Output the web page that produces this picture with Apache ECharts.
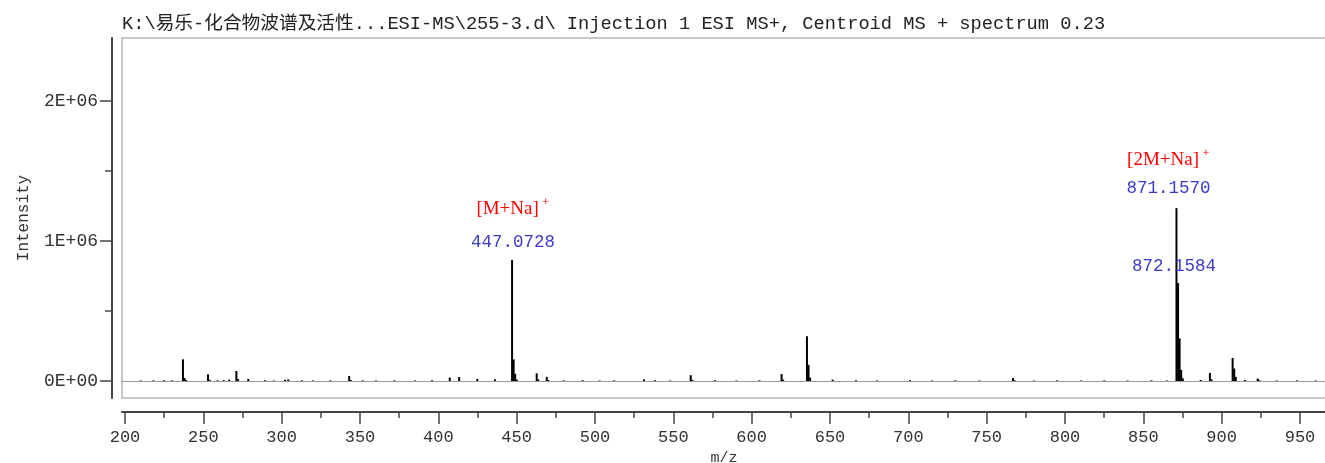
<!DOCTYPE html>
<html>
<head>
<meta charset="utf-8">
<script src="https://cdn.jsdelivr.net/npm/echarts@6/dist/echarts.min.js"></script>
<style>
html,body{margin:0;padding:0;background:#fff;}
#chart{width:1325px;height:463px;}
</style>
</head>
<body>
<div id="chart"></div>
<script>
// ---- data ----
const titleText = 'K:\\易乐-化合物波谱及活性...ESI-MS\\255-3.d\\ Injection 1 ESI MS+, Centroid MS + spectrum 0.23';
const xName = 'm/z';
const yName = 'Intensity';

const peakMz = [
  210.1, 218.2, 225.0, 230.1, 237.0, 238.0, 239.0, 253.0, 254.0, 259.1,
  263.0, 266.5, 271.1, 272.1, 278.7, 289.4, 295.0, 302.1, 304.2, 313.0,
  320.0, 331.1, 343.1, 344.1, 351.7, 360.2, 372.0, 385.1, 396.0, 407.3,
  413.3, 424.9, 436.2, 447.0728, 448.0758, 449.07, 450.1, 462.8, 463.8, 469.2,
  470.2, 480.0, 492.1, 503.0, 512.2, 531.3, 538.3, 548.0, 561.1, 562.1,
  576.6, 590.2, 605.0, 619.1, 620.1, 635.3, 636.3, 637.3, 651.7, 666.6,
  680.0, 701.1, 715.2, 730.0, 745.3, 766.8, 767.8, 780.2, 795.0, 810.3,
  825.1, 840.0, 855.2, 865.0, 871.1570, 872.1584, 873.16, 874.16, 875.17, 886.6,
  892.5, 893.5, 907.0, 908.0, 909.0, 914.9, 923.0, 924.0, 935.2, 948.0, 960.0
];
const peakIntensity = [
  4000, 5000, 6000, 5000, 155000, 22000, 8000, 48000, 9000, 5000,
  6000, 10000, 72000, 14000, 15000, 6000, 4000, 9000, 11000, 5000,
  4000, 5000, 36000, 8000, 5000, 4000, 5000, 4000, 6000, 25000,
  28000, 16000, 12000, 864000, 155000, 52000, 10000, 55000, 12000, 30000,
  8000, 5000, 6000, 4000, 5000, 12000, 6000, 4000, 42000, 9000,
  6000, 4000, 5000, 50000, 10000, 320000, 115000, 25000, 10000, 6000,
  4000, 6000, 4000, 5000, 4000, 22000, 6000, 4000, 5000, 4000,
  5000, 4000, 5000, 4000, 1235000, 700000, 305000, 80000, 20000, 8000,
  58000, 12000, 165000, 90000, 30000, 8000, 18000, 6000, 4000, 5000, 4000
];

// annotated peaks
const annotMz = [447.0728, 871.1570, 872.1584];
const annotText = ['447.0728', '871.1570', '872.1584'];
const annotIon = ['[M+Na]', '[2M+Na]', ''];

const xMajorTicks = [200,250,300,350,400,450,500,550,600,650,700,750,800,850,900,950];
const xMinorTicks = [225,275,325,375,425,475,525,575,625,675,725,775,825,875,925];
const yMajorTicks = [0, 1000000, 2000000];
const yMinorTicks = [500000, 1500000];
const yTickLabels = {0: '0E+00', 1000000: '1E+06', 2000000: '2E+06'};

// ---- style / layout ----
const mono = "'Liberation Mono', 'DejaVu Sans Mono', 'Noto Sans CJK SC', monospace";
const serif = "'Liberation Serif', 'DejaVu Serif', serif";
const blue = '#3b3bc6';
const red = '#ff0000';
const labelLayout = {
  '447.0728': {distance: 8, offset: [1, 0], ionLH: 46},
  '871.1570': {distance: 10, offset: [-8, 0], ionLH: 36},
  '872.1584': {distance: 7, offset: [-4, 0], ionLH: 0}
};

const barData = peakMz.map((mz, i) => {
  const item = {value: [mz, peakIntensity[i]]};
  const k = annotMz.indexOf(mz);
  if (k >= 0) {
    const lay = labelLayout[annotText[k]];
    const ion = annotIon[k];
    item.label = {
      show: true,
      position: 'top',
      distance: lay.distance,
      offset: lay.offset,
      formatter: ion ? '{ion|' + ion + '}{sup|⁺}\n{num|' + annotText[k] + '}' : '{num|' + annotText[k] + '}',
      rich: {
        ion: {fontFamily: serif, fontSize: 19, color: red, lineHeight: lay.ionLH || 20},
        sup: {fontFamily: serif, fontSize: 15, color: red, lineHeight: lay.ionLH || 20, padding: [0, 0, 8, 3]},
        num: {fontFamily: mono, fontSize: 17.5, color: blue, lineHeight: 20}
      }
    };
  }
  return item;
});

const chart = echarts.init(document.getElementById('chart'), null, {renderer: 'canvas'});
const xCommon = {type: 'value', min: 198.1, max: 966.6, position: 'bottom', offset: 14, splitLine: {show: false}};
const yCommon = {type: 'value', min: -121000, max: 2450000, position: 'left', offset: 10, splitLine: {show: false}};

chart.setOption({
  animation: false,
  backgroundColor: '#ffffff',
  title: {
    text: titleText,
    left: 117, top: 10,
    textStyle: {fontFamily: mono, fontSize: 18.7, fontWeight: 'normal', color: '#222'}
  },
  grid: {left: 122, right: -1, top: 38, bottom: 65, show: true, borderColor: '#b5b5b5', borderWidth: 1.5,
    containLabel: false, outerBoundsMode: 'none'},
  xAxis: [
    Object.assign({}, xCommon, {
      name: xName, nameLocation: 'middle', nameGap: 36,
      nameTextStyle: {fontFamily: mono, fontSize: 15, color: '#333'},
      axisLine: {show: true, onZero: false, lineStyle: {color: '#444', width: 2}},
      axisTick: {show: true, length: 12, customValues: xMajorTicks, lineStyle: {color: '#444', width: 1.5}},
      axisLabel: {show: true, customValues: xMajorTicks, margin: 17, fontFamily: mono, fontSize: 17, color: '#333'}
    }),
    Object.assign({}, xCommon, {
      axisLine: {show: false, onZero: false},
      axisTick: {show: true, length: 6, customValues: xMinorTicks, lineStyle: {color: '#444', width: 1.5}},
      axisLabel: {show: false}
    })
  ],
  yAxis: [
    Object.assign({}, yCommon, {
      name: yName, nameLocation: 'middle', nameGap: 80,
      nameTextStyle: {fontFamily: mono, fontSize: 16, color: '#333'},
      axisLine: {show: true, onZero: false, lineStyle: {color: '#444', width: 2}},
      axisTick: {show: true, length: 12, customValues: yMajorTicks, lineStyle: {color: '#444', width: 1.5}},
      axisLabel: {show: true, customValues: yMajorTicks, margin: 14, fontFamily: mono, fontSize: 18, color: '#333',
        formatter: v => yTickLabels[v] !== undefined ? yTickLabels[v] : ''}
    }),
    Object.assign({}, yCommon, {
      axisLine: {show: false, onZero: false},
      axisTick: {show: true, length: 7, customValues: yMinorTicks, lineStyle: {color: '#444', width: 1.5}},
      axisLabel: {show: false}
    })
  ],
  series: [{
    type: 'bar',
    xAxisIndex: 0, yAxisIndex: 0,
    barWidth: 2,
    itemStyle: {color: '#000'},
    data: barData,
    markLine: {
      silent: true, symbol: ['none', 'none'],
      label: {show: false},
      lineStyle: {color: '#999', width: 1, type: 'solid'},
      data: [{yAxis: 0}]
    },
    z: 3
  }]
});
</script>
</body>
</html>
